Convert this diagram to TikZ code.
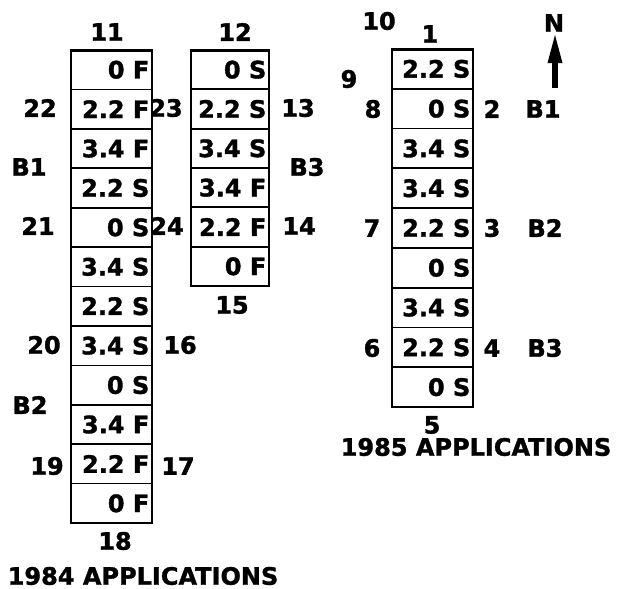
\documentclass[tikz,border=0pt]{standalone}
\usepackage{fontspec}
\setmainfont{DejaVu Sans}[BoldFeatures={FakeBold=1.4}]
\begin{document}
\begin{tikzpicture}[x=1pt,y=-1pt,
  lab/.style={font=\bfseries\fontsize{24}{24}\selectfont, inner sep=0pt},
  cell/.style={lab, anchor=east},
  rowline/.style={line width=1.7pt},
  frame/.style={line width=2.3pt},
  topedge/.style={line width=3pt}]
\useasboundingbox (0,0) rectangle (622,589);

% ---- 1984, first strip
\foreach \t [count=\i] in {0 F,2.2 F,3.4 F,2.2 S,0 S,3.4 S,2.2 S,3.4 S,0 S,3.4 F,2.2 F,0 F} {
  \pgfmathsetmacro{\ytop}{50+(\i-1)*39.42}
  \pgfmathsetmacro{\ybot}{50+\i*39.42}
  \draw[rowline] (71,\ytop) rectangle (152,\ybot);
  \node[cell] (a\i) at (149.5,{(\ytop+\ybot)/2}) {\t};
}
\draw[frame] (71,50) rectangle (152,523);
\draw[topedge] (71,50) -- (152,50);

% ---- 1984, second strip
\foreach \t [count=\i] in {0 S,2.2 S,3.4 S,3.4 F,2.2 F,0 F} {
  \pgfmathsetmacro{\ytop}{50+(\i-1)*39.33}
  \pgfmathsetmacro{\ybot}{50+\i*39.33}
  \draw[rowline] (191,\ytop) rectangle (269,\ybot);
  \node[cell] (b\i) at (266.5,{(\ytop+\ybot)/2}) {\t};
}
\draw[frame] (191,50) rectangle (269,286);
\draw[topedge] (191,50) -- (269,50);

% ---- 1985 strip
\foreach \t [count=\i] in {2.2 S,0 S,3.4 S,3.4 S,2.2 S,0 S,3.4 S,2.2 S,0 S} {
  \pgfmathsetmacro{\ytop}{49+(\i-1)*39.78}
  \pgfmathsetmacro{\ybot}{49+\i*39.78}
  \draw[rowline] (392,\ytop) rectangle (473,\ybot);
  \node[cell] (c\i) at (470.5,{(\ytop+\ybot)/2}) {\t};
}
\draw[frame] (392,49) rectangle (473,407);
\draw[topedge] (392,49) -- (473,49);

% ---- 1984 labels
\node[lab] (l11) at (107,32) {11};
\node[lab] (l12) at (235,32) {12};
\node[lab] (l22) at (40,108) {22};
\node[lab] (l23) at (166,108) {23};
\node[lab] (l13) at (298,108) {13};
\node[lab] (lB1a) at (29,167) {B1};
\node[lab] (lB3a) at (307,167) {B3};
\node[lab] (l21) at (38,226) {21};
\node[lab] (l24) at (167,226) {24};
\node[lab] (l14) at (299,226) {14};
\node[lab] (l15) at (232,305) {15};
\node[lab] (l20) at (44,345) {20};
\node[lab] (l16) at (180,345) {16};
\node[lab] (lB2a) at (30,405) {B2};
\node[lab] (l19) at (47,466) {19};
\node[lab] (l17) at (178,466) {17};
\node[lab] (l18) at (115,541) {18};
\node[lab] (t84) at (143,576) {1984 APPLICATIONS};

% ---- 1985 labels
\node[lab] (l10) at (379,21) {10};
\node[lab] (l1) at (430,34) {1};
\node[lab] (l9) at (349,79) {9};
\node[lab] (l8) at (373,109) {8};
\node[lab] (l2) at (492,109) {2};
\node[lab] (lB1b) at (543,109) {B1};
\node[lab] (l7) at (372,228) {7};
\node[lab] (l3) at (492,228) {3};
\node[lab] (lB2b) at (545,228) {B2};
\node[lab] (l6) at (372,348) {6};
\node[lab] (l4) at (492,348) {4};
\node[lab] (lB3b) at (545,348) {B3};
\node[lab] (l5) at (432,425) {5};
\node[lab] (t85) at (476,447) {1985 APPLICATIONS};

% ---- north arrow
\node[lab] (N) at (554,23) {N};
\coordinate (ntail) at (555,88);
\coordinate (nbase) at (555,60);
\coordinate (ntip) at (555,35);
\draw[line width=6pt] (ntail) -- (nbase);
\fill (ntip) -- ([xshift=-7.5pt,yshift=-28pt]ntip) -- ([xshift=7.5pt,yshift=-28pt]ntip) -- cycle;
\end{tikzpicture}
\end{document}
